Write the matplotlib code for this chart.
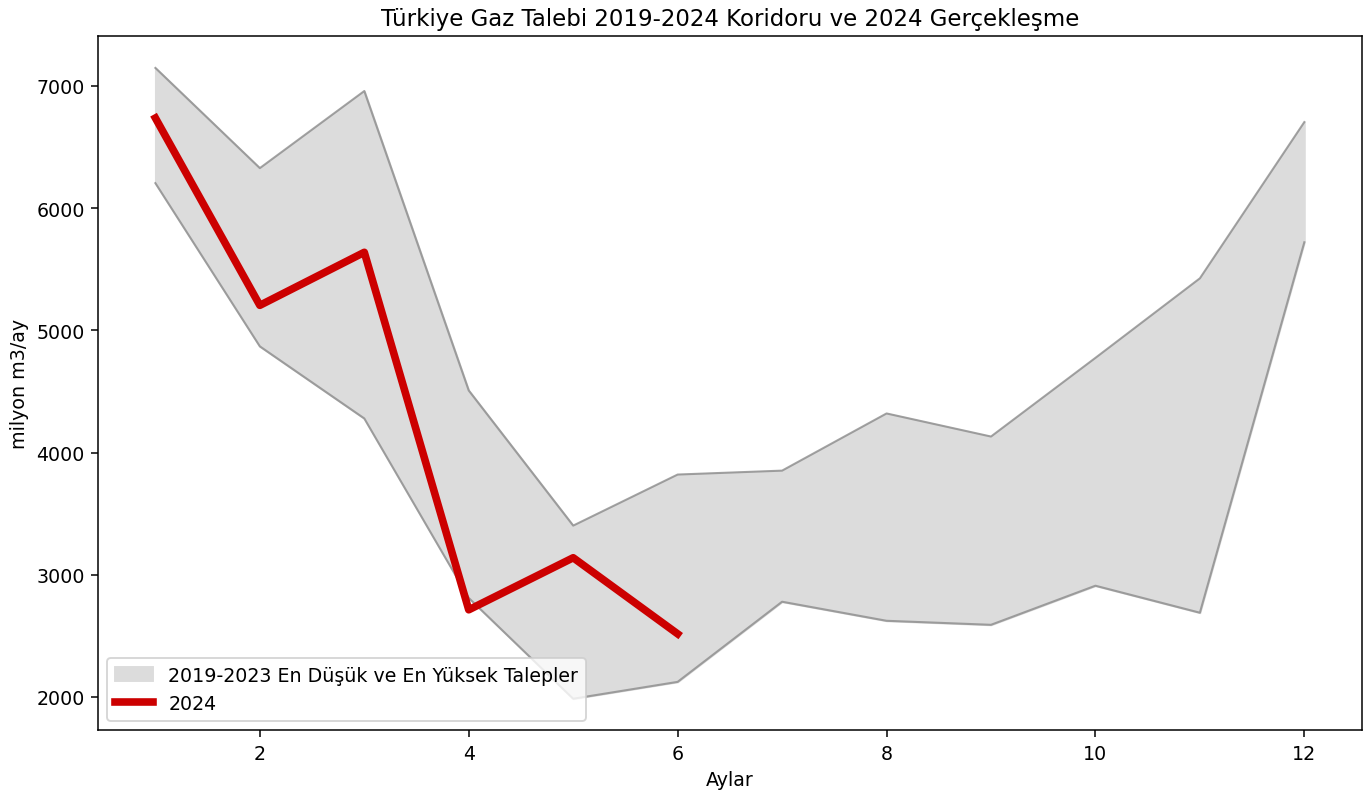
import numpy as np
import matplotlib.pyplot as plt

# months
aylar = np.arange(1, 13)

# 2019-2023 min / max monthly demand (milyon m3)
en_dusuk = [6205, 4869, 4279, 2810, 1985, 2123, 2779, 2623, 2590, 2910, 2689, 5721]
en_yuksek = [7148, 6328, 6959, 4508, 3402, 3820, 3852, 4320, 4131, 4775, 5426, 6705]

# 2024 realised (first 6 months)
aylar_2024 = [1, 2, 3, 4, 5, 6]
talep_2024 = [6738, 5205, 5639, 2713, 3139, 2516]

fig = plt.figure(figsize=(10, 5.795), dpi=137)
ax = fig.add_subplot(111)
fig.subplots_adjust(left=0.0715, right=0.994, top=0.953, bottom=0.079)

ax.fill_between(aylar, en_dusuk, en_yuksek, color='gainsboro',
                label='2019-2023 En Düşük ve En Yüksek Talepler')
ax.plot(aylar, en_dusuk, color='grey', alpha=0.7, lw=1.1)
ax.plot(aylar, en_yuksek, color='grey', alpha=0.7, lw=1.1)
ax.plot(aylar_2024, talep_2024, color='#cc0000', lw=4, label='2024')

ax.set_title('Türkiye Gaz Talebi 2019-2024 Koridoru ve 2024 Gerçekleşme')
ax.set_xlabel('Aylar')
ax.set_ylabel('milyon m3/ay')
ax.legend(loc='lower left')

plt.savefig('out.png', dpi=137)
